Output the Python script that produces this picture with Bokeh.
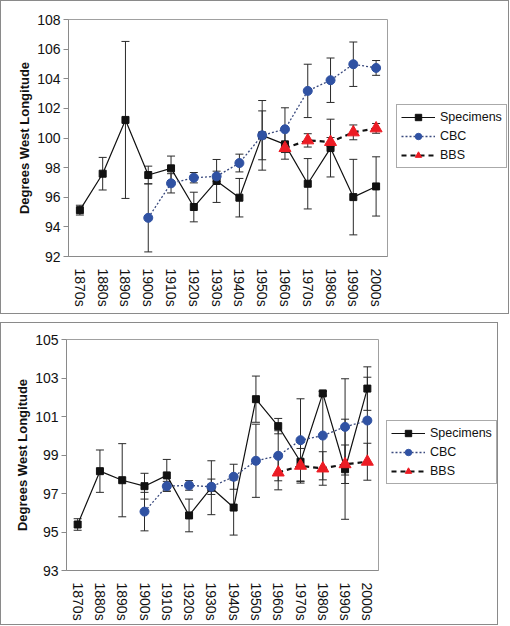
from bokeh.plotting import figure
from bokeh.models import (ColumnDataSource, Range1d, FactorRange, FixedTicker,
                          Whisker, TeeHead, Legend, LegendItem)
from bokeh.layouts import column, row
from bokeh.embed import file_html
from bokeh.resources import INLINE

decades = ["1870s", "1880s", "1890s", "1900s", "1910s", "1920s", "1930s",
           "1940s", "1950s", "1960s", "1970s", "1980s", "1990s", "2000s"]
cbc_decades = decades[3:]
bbs_decades = decades[9:]
series_names = ["Specimens", "CBC", "BBS"]

# ---- top panel ----
top_spec = [95.13, 97.59, 101.22, 97.5, 97.95, 95.34, 97.1, 95.97, 100.18, 99.57, 96.91, 99.32, 96.01, 96.73]
top_spec_err = [0.33, 1.1, 5.3, 0.6, 0.83, 1.0, 1.45, 1.3, 2.35, 1.0, 1.7, 1.95, 2.55, 2.0]
top_cbc = [94.61, 96.94, 97.32, 97.41, 98.31, 100.18, 100.59, 103.18, 103.9, 104.98, 104.73]
top_cbc_err = [2.3, 0.65, 0.35, 0.35, 0.6, 1.65, 1.45, 1.8, 1.5, 1.5, 0.5]
top_bbs = [99.32, 99.84, 99.73, 100.38, 100.65]
top_bbs_err = [0.3, 0.45, 0.3, 0.5, 0.33]
top_yticks = [92, 94, 96, 98, 100, 102, 104, 106, 108]

# ---- bottom panel ----
bot_spec = [95.39, 98.16, 97.69, 97.38, 97.94, 95.86, 97.3, 96.27, 101.9, 100.5, 98.65, 102.2, 98.26, 102.45]
bot_spec_err = [0.3, 1.1, 1.9, 0.67, 0.83, 0.85, 1.4, 1.43, 1.2, 0.4, 1.0, 0.1, 2.6, 1.13]
bot_cbc = [96.06, 97.38, 97.42, 97.35, 97.87, 98.7, 98.96, 99.77, 100.01, 100.46, 100.79]
bot_cbc_err = [1.0, 0.25, 0.25, 0.4, 0.65, 1.9, 1.3, 2.15, 2.3, 2.5, 2.25]
bot_bbs = [98.09, 98.44, 98.3, 98.52, 98.65]
bot_bbs_err = [0.9, 0.9, 0.87, 1.0, 0.96]
bot_yticks = [93, 95, 97, 99, 101, 103, 105]

FONT = "Liberation Sans"
CBC_COLOR = "#3052a3"
BBS_COLOR = "#ec1c24"
SPEC_STYLE = dict(line=dict(line_color="#111111", line_width=1.2),
                  marker=dict(marker="square", size=7, fill_color="#111111", line_color="#111111"))
CBC_STYLE = dict(line=dict(line_color="#3a4a7e", line_width=1.3, line_dash="2 2"),
                 marker=dict(marker="circle", size=9, fill_color=CBC_COLOR, line_color=CBC_COLOR))
BBS_STYLE = dict(line=dict(line_color="#111111", line_width=2.2, line_dash="5 4"),
                 marker=dict(marker="triangle", size=12, fill_color=BBS_COLOR, line_color=BBS_COLOR))
STYLES = [SPEC_STYLE, CBC_STYLE, BBS_STYLE]


def src(xs, ys, errs):
    return ColumnDataSource(dict(x=xs, y=ys,
                                 upper=[a + b for a, b in zip(ys, errs)],
                                 lower=[a - b for a, b in zip(ys, errs)]))


def main_plot(sources, yticks, width, height, mb_left, mb_top, mb_bottom):
    p = figure(x_range=FactorRange(*decades),
               y_range=Range1d(yticks[0], yticks[-1]),
               width=width, height=height, output_backend="svg",
               toolbar_location=None,
               min_border_left=mb_left, min_border_top=mb_top,
               min_border_bottom=mb_bottom, min_border_right=1)
    p.grid.visible = False
    p.outline_line_color = "#a0a0a0"
    p.outline_line_width = 1

    for s in sources:
        w = Whisker(base="x", upper="upper", lower="lower", source=s,
                    line_color="#2a2a2a", line_width=1, level="underlay",
                    upper_head=TeeHead(size=8, line_color="#2a2a2a", line_width=1),
                    lower_head=TeeHead(size=8, line_color="#2a2a2a", line_width=1))
        p.add_layout(w)

    for s, st in zip(sources, STYLES):
        p.line("x", "y", source=s, **st["line"])
        p.scatter("x", "y", source=s, **st["marker"])

    p.yaxis.ticker = FixedTicker(ticks=yticks)
    p.yaxis.minor_tick_line_color = None
    p.yaxis.major_tick_out = 5
    p.yaxis.major_tick_in = 0
    p.yaxis.major_tick_line_color = "#8a8a8a"
    p.yaxis.axis_line_color = "#8a8a8a"
    p.yaxis.major_label_text_font = FONT
    p.yaxis.major_label_text_font_size = "14px"
    p.yaxis.major_label_text_color = "#111111"
    p.yaxis.major_label_standoff = 3
    p.yaxis.axis_label = "Degrees West Longitude"
    p.yaxis.axis_label_text_font = FONT
    p.yaxis.axis_label_text_font_style = "bold"
    p.yaxis.axis_label_text_font_size = "13px"
    p.yaxis.axis_label_text_color = "#111111"
    p.yaxis.axis_label_standoff = 2

    p.xaxis.major_label_orientation = "vertical"
    p.xaxis.major_tick_line_color = None
    p.xaxis.minor_tick_line_color = None
    p.xaxis.axis_line_color = "#8a8a8a"
    p.xaxis.major_label_text_font = FONT
    p.xaxis.major_label_text_font_size = "14px"
    p.xaxis.major_label_text_color = "#111111"
    p.xaxis.major_label_standoff = 6
    return p


def legend_plot(sources, width, height, loc):
    # same data sources, but the y range lies far outside the data, so only
    # the legend swatches are visible in this side panel
    q = figure(x_range=FactorRange(*decades), y_range=Range1d(0, 1),
               width=width, height=height, output_backend="svg",
               toolbar_location=None, min_border=0)
    q.axis.visible = False
    q.grid.visible = False
    q.outline_line_color = None
    items = []
    for name, s, st in zip(series_names, sources, STYLES):
        r1 = q.line("x", "y", source=s, **st["line"])
        r2 = q.scatter("x", "y", source=s, **st["marker"])
        items.append(LegendItem(label=name, renderers=[r1, r2]))
    legend = Legend(items=items, location=loc)
    legend.border_line_color = "#555555"
    legend.border_line_width = 1
    legend.background_fill_color = "white"
    legend.background_fill_alpha = 1
    legend.label_text_font = FONT
    legend.label_text_font_size = "12.5px"
    legend.label_text_color = "#111111"
    legend.glyph_width = 34
    legend.glyph_height = 16
    legend.label_height = 16
    legend.spacing = 3
    legend.padding = 4
    legend.margin = 0
    legend.label_standoff = 5
    q.add_layout(legend)
    return q


top_sources = [src(decades, top_spec, top_spec_err),
               src(cbc_decades, top_cbc, top_cbc_err),
               src(bbs_decades, top_bbs, top_bbs_err)]
bot_sources = [src(decades, bot_spec, bot_spec_err),
               src(cbc_decades, bot_cbc, bot_cbc_err),
               src(bbs_decades, bot_bbs, bot_bbs_err)]

BORDER = {"border": "1px solid #8a8a8a"}

p1 = main_plot(top_sources, top_yticks, width=387, height=312,
               mb_left=67, mb_top=18, mb_bottom=57)
q1 = legend_plot(top_sources, 120, 312, (8, 88))
p2 = main_plot(bot_sources, bot_yticks, width=378, height=301,
               mb_left=65, mb_top=16, mb_bottom=54)
q2 = legend_plot(bot_sources, 118, 301, (7, 86))

r1 = row(p1, q1, spacing=0, styles=BORDER)
r2 = row(p2, q2, spacing=0, styles=BORDER)
p = column(r1, r2, spacing=8)
open("out.html", "w").write(file_html(p, INLINE))
